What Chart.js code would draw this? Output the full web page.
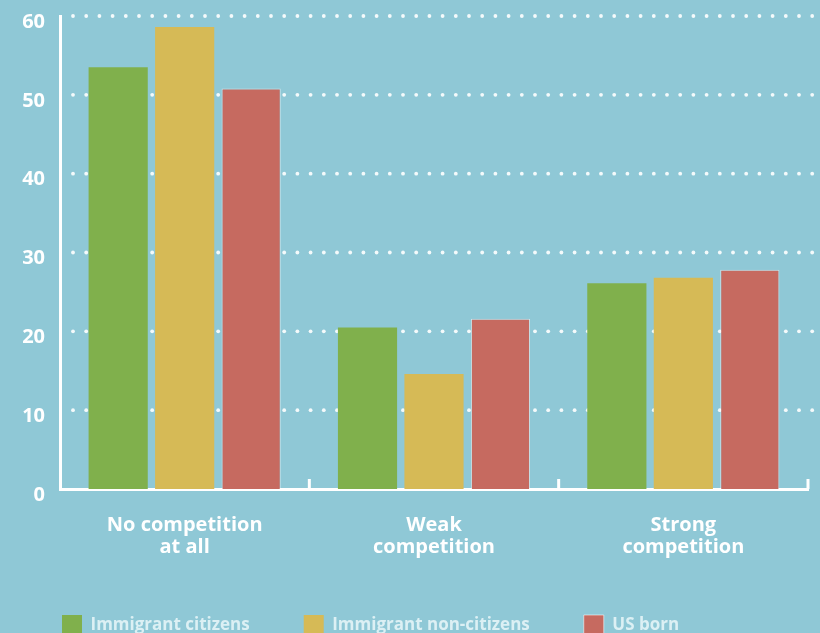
<!DOCTYPE html>
<html>
<head>
<meta charset="utf-8">
<script src="https://cdn.jsdelivr.net/npm/chart.js@4"></script>
<style>
    html, body { margin: 0; padding: 0; overflow: hidden; background: #8fc8d6; }
    #wrap { width: 820px; height: 650px; }
</style>
</head>
<body>
<div id="wrap"><canvas id="competitionChart" width="820" height="650"></canvas></div>
<script>
// categories and series
const categories = [['No competition', 'at all'], ['Weak', 'competition'], ['Strong', 'competition']];
const seriesNames = ['Immigrant citizens', 'Immigrant non-citizens', 'US born'];
const immigrantCitizens = [53.5, 20.5, 26.1];
const immigrantNonCitizens = [58.6, 14.6, 26.8];
const usBorn = [50.8, 21.6, 27.8];
const yTicks = [0, 10, 20, 30, 40, 50, 60];

const FONT = "'Open Sans', 'DejaVu Sans', sans-serif";

// dotted white gridlines running past the right edge
const dottedGrid = {
    id: 'dottedGrid',
    beforeDatasetsDraw(chart) {
        const { ctx, chartArea, scales } = chart;
        ctx.save();
        ctx.fillStyle = 'rgba(255,255,255,0.9)';
        yTicks.forEach(function (t) {
            if (t === 0) return;
            const y = scales.y.getPixelForValue(t);
            for (let x = chartArea.left + 13; x < chart.width; x += 13.2) {
                ctx.beginPath();
                ctx.arc(x, y, 1.9, 0, Math.PI * 2);
                ctx.fill();
            }
        });
        ctx.restore();
    },
    afterDraw(chart) {
        // small upward tick marks between the groups
        const { ctx, chartArea, scales } = chart;
        const half = (scales.x.getPixelForValue(1) - scales.x.getPixelForValue(0)) / 2;
        ctx.save();
        ctx.fillStyle = '#ffffff';
        categories.forEach(function (c, i) {
            const x = scales.x.getPixelForValue(i) + half;
            ctx.fillRect(x - 1.5, chartArea.bottom - 10, 3, 10);
        });
        ctx.restore();
    }
};

const ctx = document.getElementById('competitionChart').getContext('2d');
const chart = new Chart(ctx, {
    type: 'bar',
    data: {
        labels: categories,
        datasets: [{
            label: seriesNames[0],
            data: immigrantCitizens,
            backgroundColor: '#80b04c'
        }, {
            label: seriesNames[1],
            data: immigrantNonCitizens,
            backgroundColor: '#d6ba56'
        }, {
            label: seriesNames[2],
            data: usBorn,
            backgroundColor: '#c66a60',
            borderColor: 'rgba(255,255,255,0.55)',
            borderWidth: 1
        }]
    },
    options: {
        responsive: false,
        animation: false,
        layout: {
            padding: { left: 8, right: 12, top: 1, bottom: 5 }
        },
        datasets: {
            bar: {
                categoryPercentage: 0.8,
                barPercentage: 0.89
            }
        },
        plugins: {
            tooltip: { enabled: false },
            legend: {
                position: 'bottom',
                align: 'start',
                labels: {
                    boxWidth: 20,
                    boxHeight: 20,
                    padding: 54,
                    color: '#dcf0f4',
                    font: { family: FONT, size: 17, weight: 'bold' }
                }
            }
        },
        scales: {
            x: {
                grid: { display: false },
                border: { display: true, color: '#ffffff', width: 3 },
                ticks: {
                    color: '#ffffff',
                    padding: 17,
                    font: { family: FONT, size: 20, weight: 'bold', lineHeight: 1.1 }
                },
                afterFit: function (scale) { scale.height = 72; }
            },
            y: {
                min: 0,
                max: 60,
                grid: { display: false },
                border: { display: true, color: '#ffffff', width: 3 },
                ticks: {
                    stepSize: 10,
                    padding: 7,
                    labelOffset: 6,
                    color: '#ffffff',
                    font: { family: FONT, size: 20, weight: 'bold', lineHeight: 0.9 }
                },
                afterFit: function (scale) { scale.width = 52; }
            }
        }
    },
    plugins: [dottedGrid]
});
</script>
</body>
</html>
